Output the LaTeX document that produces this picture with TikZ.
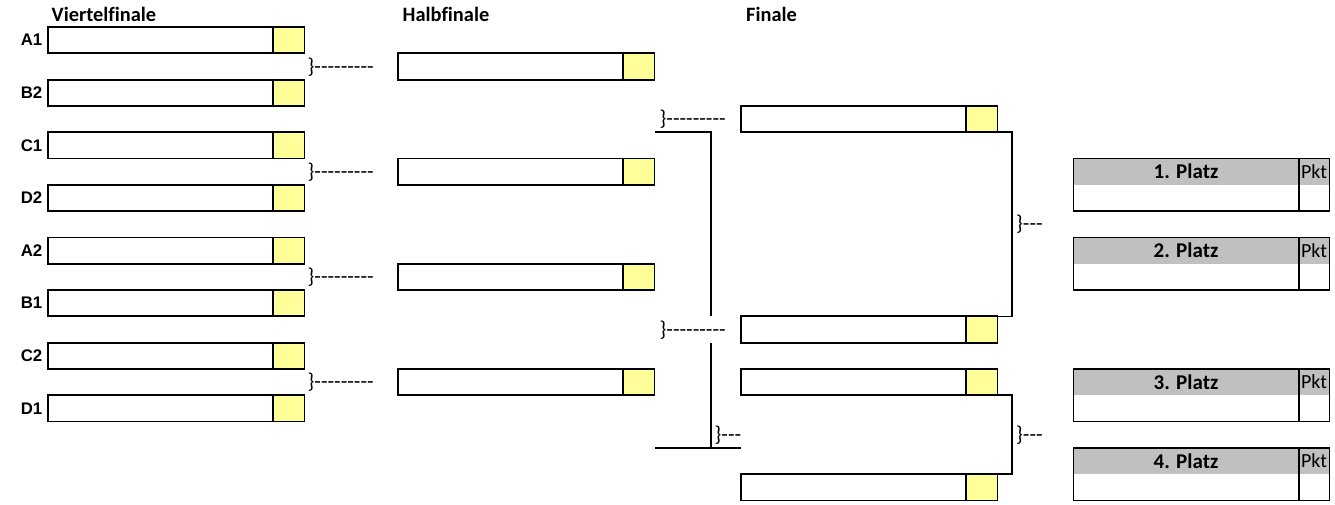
\documentclass[tikz,border=0pt]{standalone}
\usepackage{fontspec}
\setmainfont[Ligatures=NoCommon]{Carlito}
\newfontfamily\arialfont{Liberation Sans}
\usetikzlibrary{positioning}
\definecolor{cellyellow}{HTML}{FFFF99}
\definecolor{headgray}{HTML}{C0C0C0}
\newcommand\hy{-\kern0pt }
\newcommand\longbrace{\}\hy\hy\hy\hy\hy\hy\hy\hy\hy}
\newcommand\shortbrace{\}\hy\hy\hy}
\begin{document}
\begin{tikzpicture}[x=1pt, y=-1pt,
  namebox/.style={draw, line width=1.8pt, fill=white, minimum width=225pt, minimum height=26.3pt, inner sep=0pt, outer sep=0pt, anchor=north west},
  scorebox/.style={draw, line width=1.8pt, fill=cellyellow, minimum width=31.5pt, minimum height=26.3pt, inner sep=0pt, outer sep=0pt, anchor=west},
  teamlabel/.style={font=\arialfont\bfseries\fontsize{16.8}{19}\selectfont, inner sep=0pt, anchor=east},
  heading/.style={font=\bfseries\fontsize{20.4}{24}\selectfont, inner sep=0pt, anchor=base west},
  bracetext/.style={font=\fontsize{21.5}{24}\selectfont, inner sep=0pt, anchor=west},
  conn/.style={line width=1.6pt},
  placehead/.style={fill=headgray, minimum width=225.4pt, minimum height=26.3pt, inner sep=0pt, outer sep=0pt, font=\bfseries\fontsize{21}{24}\selectfont},
  pkthead/.style={fill=headgray, minimum width=30.6pt, minimum height=26.3pt, inner sep=0pt, outer sep=0pt, font=\fontsize{20}{24}\selectfont},
  placecell/.style={fill=white, minimum width=225.4pt, minimum height=26.3pt, inner sep=0pt, outer sep=0pt},
  pktcell/.style={fill=white, minimum width=30.6pt, minimum height=26.3pt, inner sep=0pt, outer sep=0pt},
  tableframe/.style={draw, line width=1.6pt}
]
\useasboundingbox (0,0) rectangle (1335,504);

% headings
\node[heading] (hq) at (51.5,21) {Viertelfinale};
\node[heading] (hh) at (402.5,21) {Halbfinale};
\node[heading] (hf) at (746,21) {Finale};

% connectors (drawn first, boxes on top)
\coordinate (lbA) at (655,{0.7+26.3*5});
\coordinate (lbB) at (710.7,{0.7+26.3*12});
\coordinate (lbC) at (710.7,{0.7+26.3*13});
\coordinate (lbD) at (655,{0.7+26.3*17});
\coordinate (lbE) at (741,{0.7+26.3*17});
\draw[conn] (lbA) -| (lbB);
\draw[conn] (lbC) -- (lbC |- lbD);
\draw[conn] (lbD) -- (lbE);

% quarter-finals
\foreach \lab/\r [count=\i] in {A1/1, B2/3, C1/5, D2/7, A2/9, B1/11, C2/13, D1/15} {
  \node[namebox] (q\i) at (48,{0.7+26.3*\r}) {};
  \node[scorebox] (qs\i) at (q\i.east) {};
  \node[teamlabel] (lq\i) at ([xshift=-5.5pt]q\i.west) {\lab};
}

% quarter-final braces
\foreach \r [count=\i] in {2,6,10,14} {
  \node[bracetext] (bq\i) at (307.5,{14.2+26.3*\r}) {\longbrace};
}

% semi-finals
\foreach \r [count=\i] in {2,6,10,14} {
  \node[namebox] (h\i) at (398,{0.7+26.3*\r}) {};
  \node[scorebox] (hs\i) at (h\i.east) {};
}

% semi-final braces
\node[bracetext] (bh1) at (659.5,{14.2+26.3*4}) {\longbrace};
\node[bracetext] (bh2) at (659.5,{14.2+26.3*12}) {\longbrace};
\node[bracetext] (bh3) at (714.5,{14.2+26.3*16}) {\shortbrace};

% final and third-place boxes
\node[namebox] (f1) at (741,{0.7+26.3*4}) {};
\node[scorebox] (fs1) at (f1.east) {};
\node[namebox] (f2) at (741,{0.7+26.3*12}) {};
\node[scorebox] (fs2) at (f2.east) {};
\node[namebox] (t1) at (741,{0.7+26.3*14}) {};
\node[scorebox] (ts1) at (t1.east) {};
\node[namebox] (t2) at (741,{0.7+26.3*18}) {};
\node[scorebox] (ts2) at (t2.east) {};

\draw[conn] (fs1.south east) -- ++(14.7,0) |- (fs2.north east);
\draw[conn] (ts1.south east) -- ++(14.7,0) |- (ts2.north east);

\node[bracetext] (bf1) at (1016,{14.2+26.3*8}) {\shortbrace};
\node[bracetext] (bf2) at (1016,{14.2+26.3*16}) {\shortbrace};

% placement tables
\foreach \t/\r in {1/6, 2/9, 3/14, 4/17} {
  \node[placehead, anchor=north west] (ph\t) at (1073.3,{0.7+26.3*\r}) {\t. Platz};
  \node[pkthead, anchor=west] (pk\t) at (ph\t.east) {Pkt};
  \node[placecell, anchor=north] (pb\t) at (ph\t.south) {};
  \node[pktcell, anchor=north] (pbk\t) at (pk\t.south) {};
  \draw[tableframe] (ph\t.north west) rectangle (pbk\t.south east);
  \draw[tableframe] (pk\t.north west) -- (pbk\t.south west);
}
\end{tikzpicture}
\end{document}
